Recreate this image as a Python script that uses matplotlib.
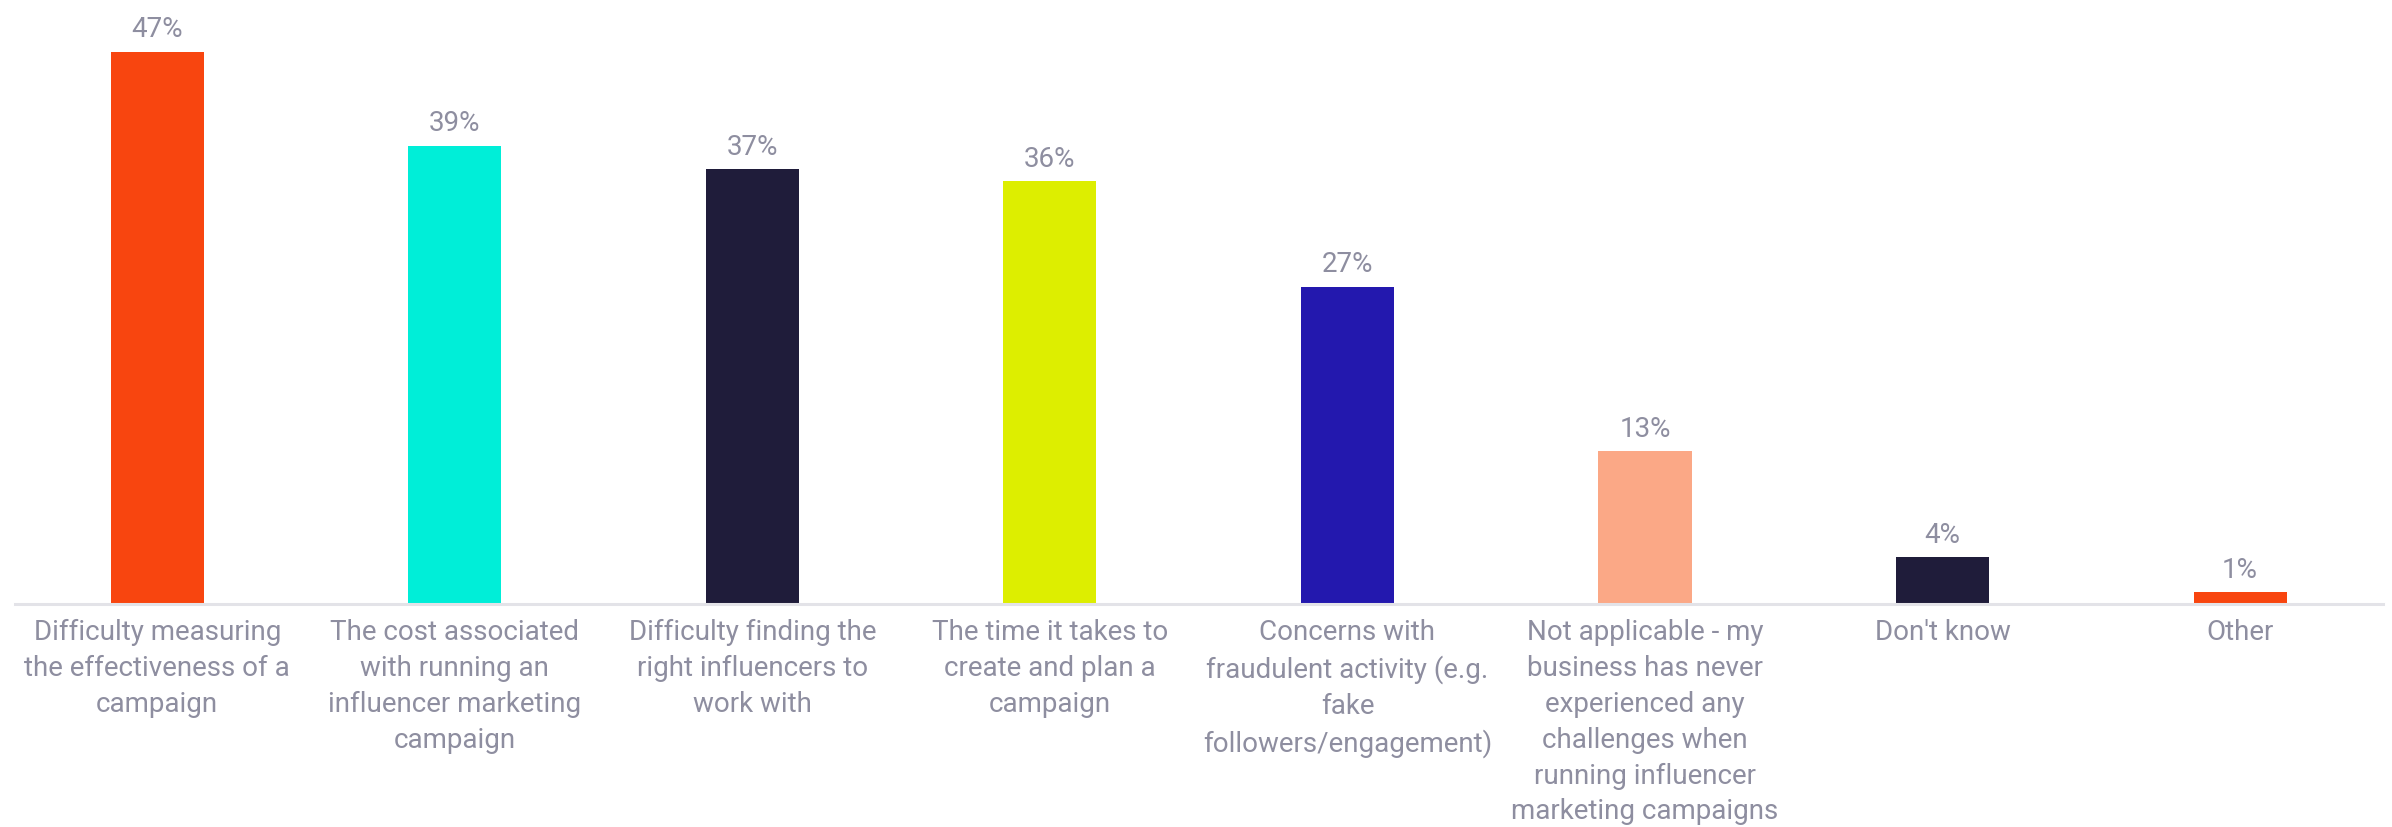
import matplotlib
matplotlib.use("Agg")
import matplotlib.pyplot as plt
from matplotlib import font_manager

categories = [
    "Difficulty measuring\nthe effectiveness of a\ncampaign",
    "The cost associated\nwith running an\ninfluencer marketing\ncampaign",
    "Difficulty finding the\nright influencers to\nwork with",
    "The time it takes to\ncreate and plan a\ncampaign",
    "Concerns with\nfraudulent activity (e.g.\nfake\nfollowers/engagement)",
    "Not applicable - my\nbusiness has never\nexperienced any\nchallenges when\nrunning influencer\nmarketing campaigns",
    "Don't know",
    "Other",
]
values = [47, 39, 37, 36, 27, 13, 4, 1]
bar_colors = ["#F8450F", "#00EED8", "#1F1C3A", "#DDEE00",
              "#2318AE", "#FBA886", "#1F1C3A", "#F8450F"]

names = {f.name for f in font_manager.fontManager.ttflist}
family = [f for f in ["Roboto", "DejaVu Sans"] if f in names]
plt.rcParams["font.family"] = family

text_color = "#8E8EA0"

fig = plt.figure(figsize=(23.92, 8.27), dpi=100)
ax = fig.add_axes([15 / 2392, (827 - 604) / 827, (2383 - 15) / 2392, 604 / 827])

x = list(range(len(values)))
bars = ax.bar(x, values, width=0.313, color=bar_colors, zorder=2)
ax.bar_label(bars, labels=[f"{v}%" for v in values], padding=6,
             fontsize=20, color=text_color)

ax.set_xlim(-0.478, 7.48)
ax.set_ylim(0, 51.4)

ax.set_xticks(x)
ax.set_xticklabels(categories, fontsize=20, color=text_color, linespacing=1.42,
                   va="top")
ax.tick_params(axis="x", length=0, pad=11)
ax.set_yticks([])

for side in ["top", "right", "left"]:
    ax.spines[side].set_visible(False)
ax.spines["bottom"].set_color("#E3E3E8")
ax.spines["bottom"].set_linewidth(2.2)
ax.spines["bottom"].set_zorder(3)

fig.savefig("out.png", dpi=100, facecolor="white")
